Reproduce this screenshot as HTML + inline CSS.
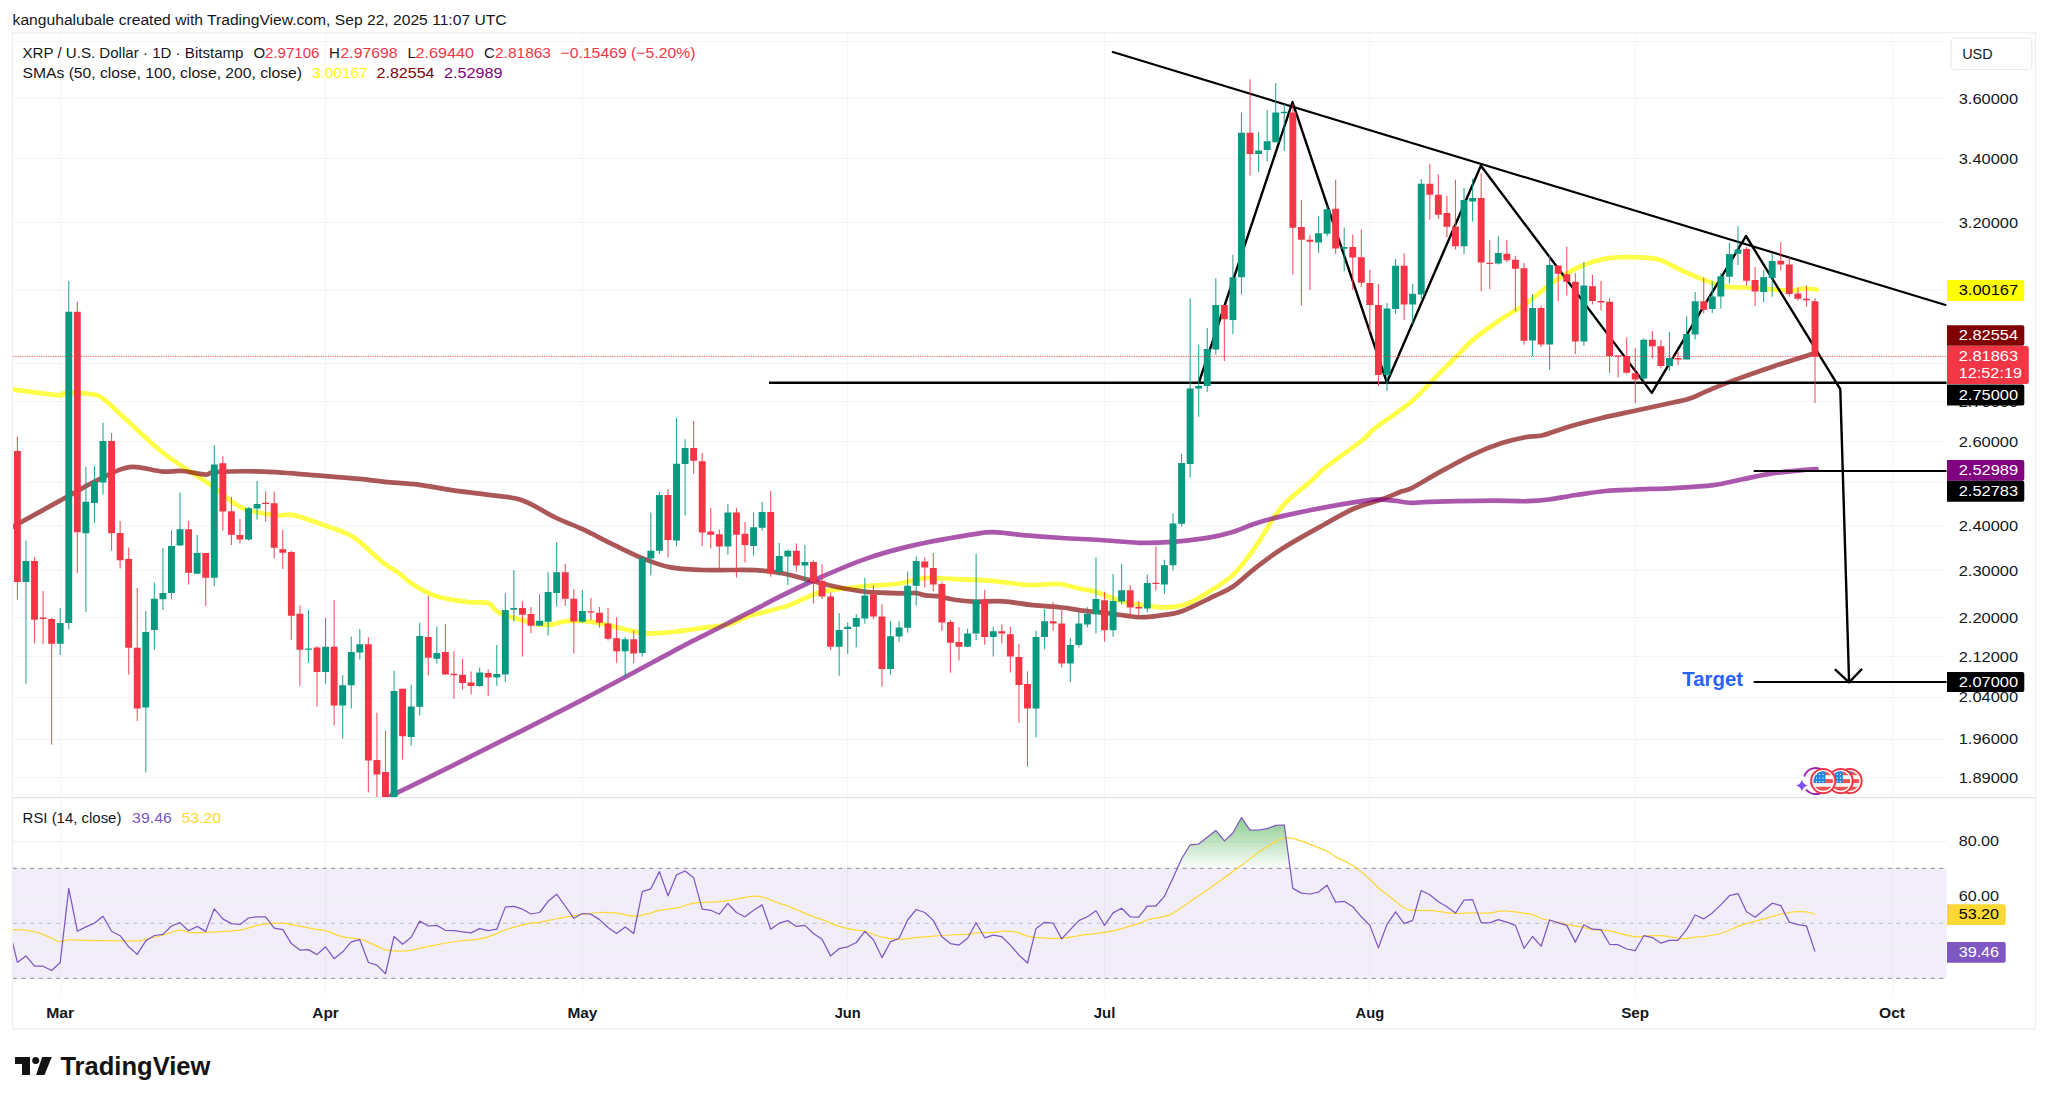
<!DOCTYPE html>
<html lang="en"><head><meta charset="utf-8"><title>XRP / U.S. Dollar chart</title>
<style>html,body{margin:0;padding:0;background:#fff}body{width:2048px;height:1103px;overflow:hidden}svg{display:block}</style></head>
<body>
<svg width="2048" height="1103" viewBox="0 0 2048 1103" font-family="&quot;Liberation Sans&quot;, Arial, sans-serif">
<defs>
<clipPath id="cp"><rect x="12.9" y="33.3" width="1933.6" height="764.0"/></clipPath>
<clipPath id="cr"><rect x="12.9" y="797.8" width="1933.6" height="197.4000000000001"/></clipPath>
<clipPath id="cob"><rect x="12.9" y="797.8" width="1933.6" height="70.60000000000002"/></clipPath>
<linearGradient id="gob" gradientUnits="userSpaceOnUse" x1="0" y1="812" x2="0" y2="868.4"><stop offset="0" stop-color="#4caf50" stop-opacity="0.72"/><stop offset="1" stop-color="#4caf50" stop-opacity="0.02"/></linearGradient>
</defs>
<rect width="2048" height="1103" fill="#fff"/>
<path d="M12.9 41.5H1946.5M12.9 98.5H1946.5M12.9 158.5H1946.5M12.9 222.5H1946.5M12.9 290.5H1946.5M12.9 363.5H1946.5M12.9 401.5H1946.5M12.9 441.5H1946.5M12.9 482.5H1946.5M12.9 525.5H1946.5M12.9 570.5H1946.5M12.9 617.5H1946.5M12.9 656.5H1946.5M12.9 697.5H1946.5M12.9 739.5H1946.5M12.9 777.5H1946.5M60.5 33.3V995.2M325.5 33.3V995.2M582.5 33.3V995.2M847.5 33.3V995.2M1104.5 33.3V995.2M1369.5 33.3V995.2M1635.5 33.3V995.2M1892.5 33.3V995.2" stroke="#f4f5f7" stroke-width="1" fill="none"/>
<rect x="12.9" y="868.4" width="1933.6" height="110.0" fill="#7e57c2" fill-opacity="0.1"/>
<path d="M12.9 841.5H1946.5M12.9 896.5H1946.5M12.9 951.5H1946.5" stroke="#ececf2" stroke-width="1" fill="none" opacity="0.75"/>
<path d="M12.9 868.4H1946.5"  stroke="#787b86" stroke-opacity="0.7" stroke-width="1.1" stroke-dasharray="4 4.6" fill="none"/>
<path d="M12.9 978.4H1946.5"  stroke="#787b86" stroke-opacity="0.7" stroke-width="1.1" stroke-dasharray="4 4.6" fill="none"/>
<path d="M12.9 923.4H1946.5"  stroke="#787b86" stroke-opacity="0.35" stroke-width="1.1" stroke-dasharray="4 4.6" fill="none"/>
<g clip-path="url(#cp)" fill="none" stroke-linejoin="round" stroke-linecap="round">
<path d="M4.0 388.5C5.5 388.6 3.6 388.3 12.7 389.4C21.8 390.5 50.1 394.7 58.7 395.3C67.3 395.9 59.0 393.2 64.6 393.0C70.1 392.8 85.5 393.3 92.0 394.3C98.5 395.3 98.2 395.1 103.8 399.2C109.3 403.3 115.2 409.7 125.3 418.8C135.4 427.9 150.2 442.9 164.5 454.0C178.8 465.1 198.7 476.5 211.4 485.4C224.1 494.3 230.4 502.4 240.8 507.3C251.2 512.2 265.3 513.8 274.1 515.1C282.9 516.4 285.6 513.5 293.7 515.1C301.8 516.7 313.2 521.3 323.0 524.9C332.8 528.5 342.3 530.2 352.4 536.6C362.5 543.0 375.8 556.9 383.7 563.1C391.6 569.3 395.2 570.3 400.0 573.8C404.8 577.3 406.2 580.3 412.2 584.0C418.1 587.7 426.6 593.0 435.7 596.0C444.8 599.0 458.2 600.8 467.0 602.0C475.8 603.2 483.4 601.6 488.6 603.3C493.8 605.0 492.2 609.4 498.4 612.4C504.6 615.4 518.0 619.1 525.8 621.2C533.6 623.3 538.5 625.1 545.4 625.1C552.2 625.1 560.4 621.9 566.9 621.2C573.4 620.6 578.3 620.7 584.5 621.2C590.7 621.7 597.5 622.8 604.0 624.1C610.5 625.4 616.5 627.5 623.7 629.0C630.9 630.5 639.1 632.8 647.2 633.3C655.4 633.8 663.5 632.9 672.6 632.0C681.7 631.1 692.4 629.3 702.0 628.0C711.6 626.7 722.2 626.1 730.0 624.1C737.8 622.1 739.3 619.1 749.0 616.0C758.7 612.9 776.7 609.5 788.1 605.6C799.5 601.8 809.4 595.6 817.5 592.9C825.6 590.2 828.9 590.6 837.0 589.5C845.1 588.4 856.6 586.9 866.4 586.0C876.2 585.1 887.6 585.0 895.8 584.0C904.0 583.0 910.2 581.1 915.4 580.1C920.6 579.1 920.6 578.0 927.1 577.8C933.6 577.6 943.4 578.5 954.5 579.1C965.6 579.7 981.3 580.1 993.7 581.1C1006.1 582.1 1018.1 584.5 1028.9 585.0C1039.7 585.5 1049.8 583.4 1058.3 584.0C1066.8 584.6 1073.8 587.5 1080.0 588.8C1086.2 590.1 1089.2 589.8 1095.7 591.7C1102.2 593.7 1110.4 598.1 1119.2 600.5C1128.0 602.9 1140.3 604.9 1148.5 606.0C1156.7 607.1 1161.6 607.8 1168.1 607.4C1174.6 607.0 1181.2 606.0 1187.7 603.5C1194.2 601.0 1199.8 597.4 1207.3 592.7C1214.8 588.0 1224.5 582.9 1232.7 575.1C1240.9 567.3 1248.1 557.0 1256.2 545.7C1264.3 534.4 1272.2 518.1 1281.5 507.2C1290.8 496.2 1304.9 486.7 1312.3 480.0C1319.7 473.3 1317.7 473.6 1326.0 467.0C1334.3 460.4 1353.8 447.0 1362.0 440.5C1370.2 434.0 1367.1 434.3 1375.2 428.0C1383.3 421.7 1400.6 410.7 1410.4 402.5C1420.2 394.3 1426.1 386.8 1433.9 379.0C1441.7 371.2 1450.9 362.0 1457.4 355.5C1463.9 349.0 1465.5 346.1 1473.0 339.9C1480.5 333.7 1494.2 323.9 1502.4 318.3C1510.6 312.8 1517.4 309.6 1522.0 306.6C1526.6 303.6 1524.4 304.6 1530.0 300.3C1535.6 296.0 1547.3 286.2 1555.5 280.7C1563.7 275.1 1571.2 270.6 1579.0 267.0C1586.8 263.4 1594.9 260.8 1602.4 259.2C1609.9 257.6 1615.8 257.4 1624.0 257.2C1632.2 257.0 1644.9 257.5 1651.4 258.2C1657.9 258.9 1657.9 259.0 1663.1 261.1C1668.3 263.2 1675.5 267.6 1682.7 270.9C1689.9 274.2 1699.0 278.1 1706.2 280.7C1713.4 283.3 1719.3 285.5 1725.8 286.6C1732.3 287.7 1737.2 287.0 1745.4 287.5C1753.6 288.0 1766.9 289.0 1774.7 289.5C1782.5 290.0 1787.5 290.7 1792.4 290.5C1797.3 290.3 1800.0 288.7 1804.1 288.5C1808.2 288.3 1814.7 289.3 1816.8 289.5" stroke="#ffff00" stroke-opacity="0.72" stroke-width="4.7"/>
<path d="M4.0 532.0C5.5 531.1 3.6 531.9 12.7 526.8C21.8 521.7 45.2 508.9 58.7 501.4C72.2 493.9 83.5 487.2 94.0 481.8C104.5 476.4 114.2 471.6 121.4 469.1C128.6 466.7 130.2 466.7 137.0 467.1C143.8 467.5 155.0 471.0 162.5 471.6C170.0 472.2 174.8 470.5 182.0 471.0C189.2 471.5 200.0 474.4 205.6 474.6C211.2 474.8 205.6 472.5 215.4 472.0C225.2 471.5 246.4 471.0 264.3 471.6C282.2 472.2 307.1 474.7 323.0 475.9C338.9 477.1 349.1 477.9 359.4 478.9C369.7 479.9 375.0 480.9 384.8 481.8C394.6 482.8 407.0 483.2 418.1 484.6C429.2 486.0 440.0 488.4 451.4 490.1C462.8 491.8 474.9 492.9 486.6 494.6C498.4 496.3 510.5 496.4 521.9 500.2C533.3 504.0 545.1 512.7 555.2 517.5C565.3 522.3 572.8 524.6 582.6 529.2C592.4 533.8 603.8 540.0 613.9 544.9C624.0 549.8 633.8 554.9 643.3 558.6C652.8 562.4 660.9 565.5 670.7 567.4C680.5 569.3 692.1 569.6 702.0 570.0C711.9 570.4 720.5 570.0 730.0 570.0C739.5 570.0 750.0 569.8 758.7 570.3C767.4 570.8 773.7 571.7 782.2 573.3C790.7 574.9 800.5 577.8 809.6 580.1C818.7 582.4 827.5 585.0 837.0 587.0C846.5 589.0 855.0 590.8 866.4 591.9C877.8 593.0 897.4 593.2 905.6 593.4C913.8 593.6 912.1 592.6 915.4 592.9C918.7 593.2 921.3 594.8 925.2 595.4C929.1 596.0 934.0 595.7 938.9 596.4C943.8 597.1 948.6 598.8 954.5 599.7C960.4 600.6 965.9 601.4 974.1 601.7C982.3 602.0 993.7 600.7 1003.5 601.3C1013.3 601.9 1023.0 604.2 1032.8 605.2C1042.6 606.2 1054.3 606.6 1062.2 607.5C1070.1 608.4 1072.1 609.3 1080.0 610.3C1087.9 611.3 1099.6 612.1 1109.4 613.3C1119.2 614.4 1129.9 616.9 1138.7 617.2C1147.5 617.5 1155.0 616.2 1162.2 615.2C1169.4 614.2 1173.3 614.4 1181.8 611.3C1190.3 608.2 1204.6 600.7 1213.1 596.6C1221.6 592.5 1225.5 591.7 1232.7 586.8C1239.9 581.9 1247.7 573.8 1256.2 567.3C1264.7 560.8 1272.2 554.9 1283.6 547.7C1295.0 540.5 1313.0 530.7 1324.7 524.2C1336.5 517.7 1344.3 512.8 1354.1 508.5C1363.9 504.2 1375.8 501.4 1383.5 498.7C1391.2 495.9 1395.3 493.8 1400.0 492.0C1404.7 490.2 1405.2 491.4 1411.7 488.1C1418.2 484.8 1429.1 477.9 1439.2 472.4C1449.3 466.8 1462.0 459.7 1472.4 454.8C1482.8 449.9 1493.0 446.0 1501.8 443.1C1510.6 440.2 1518.4 438.5 1525.3 437.2C1532.2 435.9 1536.1 436.8 1542.9 435.2C1549.8 433.6 1556.6 430.3 1566.4 427.4C1576.2 424.5 1590.3 420.8 1601.7 418.0C1613.1 415.2 1622.9 413.4 1635.0 410.8C1647.1 408.2 1665.0 404.3 1674.1 402.3C1683.2 400.3 1684.4 400.4 1689.8 398.6C1695.2 396.8 1698.6 394.5 1706.2 391.3C1713.8 388.1 1724.2 383.8 1735.6 379.6C1747.0 375.4 1762.0 370.1 1774.7 365.9C1787.4 361.6 1805.2 356.2 1811.9 354.1C1818.6 352.0 1814.5 353.6 1815.0 353.5" stroke="#800000" stroke-opacity="0.66" stroke-width="4.7"/>
<path d="M386.0 798.2C388.1 797.2 387.6 797.3 398.3 792.1C409.0 786.9 419.3 782.3 450.0 766.9C480.7 751.5 544.4 719.5 582.7 699.6C621.0 679.7 660.1 658.1 680.0 647.6C699.9 637.1 693.7 640.6 702.0 636.4C710.3 632.2 720.3 627.1 730.0 622.2C739.7 617.3 752.0 611.0 760.0 606.9C768.0 602.8 768.1 602.3 778.3 597.3C788.5 592.3 806.7 583.5 821.4 577.0C836.1 570.5 850.7 564.0 866.4 558.6C882.1 553.2 897.4 549.0 915.4 544.9C933.4 540.8 961.0 536.2 974.1 534.1C987.2 532.0 985.6 532.0 993.7 532.2C1001.9 532.4 1011.6 534.1 1023.0 535.1C1034.4 536.1 1049.4 537.2 1062.2 538.0C1075.0 538.8 1087.2 539.2 1100.0 540.0C1112.8 540.8 1127.4 542.4 1138.7 542.8C1150.0 543.2 1156.7 543.0 1168.1 542.2C1179.5 541.4 1196.5 539.6 1207.3 537.9C1218.1 536.2 1224.5 534.5 1232.7 532.0C1240.9 529.5 1247.4 526.0 1256.2 523.2C1265.0 520.4 1272.5 518.3 1285.6 515.4C1298.6 512.5 1319.8 508.2 1334.5 505.6C1349.2 503.0 1363.9 500.5 1373.7 499.7C1383.5 498.9 1387.0 500.2 1393.3 500.7C1399.6 501.2 1405.7 502.6 1411.7 502.8C1417.7 503.0 1418.3 502.1 1429.4 501.8C1440.5 501.5 1464.9 501.0 1478.3 500.8C1491.7 500.6 1501.4 500.7 1509.6 500.8C1517.8 500.9 1520.8 501.4 1527.3 501.2C1533.8 501.0 1540.6 500.5 1548.8 499.5C1557.0 498.5 1566.7 496.4 1576.2 495.0C1585.7 493.6 1595.8 491.9 1605.6 491.0C1615.4 490.1 1623.6 490.0 1635.0 489.5C1646.4 489.0 1661.0 488.8 1674.1 488.1C1687.1 487.4 1701.9 486.7 1713.3 485.2C1724.7 483.7 1732.8 481.3 1742.6 479.3C1752.4 477.3 1762.4 474.9 1772.0 473.4C1781.6 471.9 1792.6 471.1 1800.0 470.4C1807.4 469.7 1813.7 469.2 1816.4 469.0" stroke="#800080" stroke-opacity="0.66" stroke-width="4.7"/>
</g>
<g fill="none" stroke="#000" stroke-linejoin="miter" stroke-linecap="butt">
<path d="M1112.8 52.1L1945.5 304.9" stroke-width="2.1" stroke-linecap="round"/>
<path d="M769 382.7H1946.5" stroke-width="2.4"/>
<path d="M1198.9 382.5L1292.5 102.1L1386.9 382.5L1480.9 165.7L1651.8 392.9L1746 236L1840.3 389.2L1849.1 682.2" stroke-width="2.4" stroke-linejoin="round"/>
<path d="M1835.6 669.9L1849.1 682.4L1861.4 669.5" stroke-width="2.4" stroke-linecap="round" stroke-linejoin="round"/>
<path d="M1753.7 471.1H1946.5M1753.7 681.9H1946.5" stroke-width="2"/>
</g>
<text x="1682.3" y="686.2" font-size="20" font-weight="bold" fill="#2962ff" textLength="60.7" lengthAdjust="spacingAndGlyphs">Target</text>
<g clip-path="url(#cp)">
<path d="M25.41 540.5h1.1V683.7h-1.1zM59.65 608.0h1.1V655.0h-1.1zM68.21 280.8h1.1V629.5h-1.1zM85.33 467.1h1.1V611.9h-1.1zM93.89 466.1h1.1V522.9h-1.1zM102.45 422.7h1.1V494.5h-1.1zM145.25 610.9h1.1V772.4h-1.1zM153.81 582.5h1.1V649.7h-1.1zM162.37 548.0h1.1V609.9h-1.1zM170.93 530.4h1.1V599.2h-1.1zM179.49 492.4h1.1V545.4h-1.1zM196.61 535.1h1.1V573.7h-1.1zM213.73 445.0h1.1V586.0h-1.1zM247.97 506.9h1.1V540.5h-1.1zM256.53 481.0h1.1V519.4h-1.1zM307.89 609.9h1.1V662.8h-1.1zM325.01 618.0h1.1V683.7h-1.1zM342.13 675.2h1.1V738.7h-1.1zM350.69 636.6h1.1V708.6h-1.1zM359.25 629.0h1.1V659.6h-1.1zM393.49 670.7h1.1V797.0h-1.1zM410.61 684.8h1.1V745.7h-1.1zM419.17 622.8h1.1V715.6h-1.1zM436.29 626.5h1.1V663.7h-1.1zM479.09 667.6h1.1V686.8h-1.1zM496.21 645.1h1.1V685.8h-1.1zM504.77 593.2h1.1V681.9h-1.1zM513.33 570.3h1.1V621.6h-1.1zM539.01 594.2h1.1V625.7h-1.1zM547.57 572.3h1.1V635.5h-1.1zM556.13 542.0h1.1V606.6h-1.1zM581.81 589.9h1.1V622.8h-1.1zM624.61 636.9h1.1V677.6h-1.1zM641.73 556.2h1.1V656.4h-1.1zM650.29 512.6h1.1V575.6h-1.1zM658.85 492.0h1.1V553.7h-1.1zM675.97 418.0h1.1V546.5h-1.1zM684.53 439.2h1.1V515.5h-1.1zM727.33 504.2h1.1V554.7h-1.1zM753.01 512.6h1.1V555.7h-1.1zM761.57 501.8h1.1V530.8h-1.1zM778.69 542.9h1.1V575.6h-1.1zM787.25 549.8h1.1V585.0h-1.1zM804.37 544.9h1.1V584.4h-1.1zM838.61 613.0h1.1V675.7h-1.1zM847.17 622.5h1.1V653.8h-1.1zM855.73 614.0h1.1V647.3h-1.1zM864.29 577.8h1.1V623.8h-1.1zM889.97 620.9h1.1V674.7h-1.1zM898.53 620.9h1.1V641.9h-1.1zM907.09 571.6h1.1V632.7h-1.1zM915.65 556.6h1.1V605.6h-1.1zM967.01 628.7h1.1V646.7h-1.1zM975.57 553.7h1.1V640.1h-1.1zM992.69 626.8h1.1V656.5h-1.1zM1035.49 630.7h1.1V737.4h-1.1zM1044.05 609.2h1.1V649.3h-1.1zM1069.73 638.1h1.1V682.2h-1.1zM1078.29 612.6h1.1V647.7h-1.1zM1086.85 607.3h1.1V627.5h-1.1zM1095.41 557.5h1.1V633.2h-1.1zM1112.53 574.1h1.1V636.8h-1.1zM1121.09 563.9h1.1V604.5h-1.1zM1146.77 574.7h1.1V612.3h-1.1zM1163.89 559.8h1.1V593.7h-1.1zM1172.45 513.4h1.1V570.2h-1.1zM1181.01 453.7h1.1V526.7h-1.1zM1189.57 298.3h1.1V477.6h-1.1zM1198.13 344.7h1.1V416.8h-1.1zM1206.69 328.1h1.1V391.7h-1.1zM1215.25 278.2h1.1V354.5h-1.1zM1232.37 254.7h1.1V334.0h-1.1zM1240.93 112.5h1.1V294.4h-1.1zM1258.05 132.0h1.1V172.0h-1.1zM1266.61 109.9h1.1V161.8h-1.1zM1275.17 83.1h1.1V142.2h-1.1zM1283.73 104.0h1.1V151.0h-1.1zM1317.97 216.2h1.1V252.8h-1.1zM1326.53 205.9h1.1V236.2h-1.1zM1343.65 227.4h1.1V271.2h-1.1zM1386.45 303.0h1.1V390.8h-1.1zM1395.01 259.0h1.1V313.8h-1.1zM1412.13 284.1h1.1V324.2h-1.1zM1420.69 179.0h1.1V298.7h-1.1zM1463.49 187.7h1.1V254.0h-1.1zM1472.05 178.5h1.1V221.5h-1.1zM1497.73 236.2h1.1V264.5h-1.1zM1531.97 294.3h1.1V356.0h-1.1zM1549.09 255.0h1.1V369.7h-1.1zM1583.33 262.1h1.1V345.7h-1.1zM1643.25 338.5h1.1V381.5h-1.1zM1668.93 332.0h1.1V370.8h-1.1zM1686.05 316.3h1.1V359.4h-1.1zM1694.61 291.9h1.1V339.4h-1.1zM1711.73 281.3h1.1V313.0h-1.1zM1720.29 272.9h1.1V308.5h-1.1zM1728.85 242.9h1.1V283.6h-1.1zM1737.41 226.3h1.1V265.0h-1.1zM1763.09 269.9h1.1V302.2h-1.1zM1771.65 253.3h1.1V296.7h-1.1z" fill="#089981" fill-opacity="0.85"/>
<path d="M16.85 436.8h1.1V599.7h-1.1zM33.97 557.0h1.1V643.6h-1.1zM42.53 591.0h1.1V644.2h-1.1zM51.09 618.0h1.1V744.6h-1.1zM76.77 301.7h1.1V572.9h-1.1zM111.01 432.9h1.1V550.7h-1.1zM119.57 521.0h1.1V568.6h-1.1zM128.13 547.4h1.1V674.5h-1.1zM136.69 588.0h1.1V720.9h-1.1zM188.05 521.0h1.1V584.5h-1.1zM205.17 553.1h1.1V606.0h-1.1zM222.29 456.0h1.1V530.4h-1.1zM230.85 497.1h1.1V544.9h-1.1zM239.41 519.0h1.1V543.5h-1.1zM265.09 491.6h1.1V521.8h-1.1zM273.65 491.6h1.1V558.2h-1.1zM282.21 529.8h1.1V568.9h-1.1zM290.77 550.7h1.1V639.7h-1.1zM299.33 605.4h1.1V685.9h-1.1zM316.45 646.0h1.1V706.5h-1.1zM333.57 600.0h1.1V725.6h-1.1zM367.81 637.3h1.1V792.5h-1.1zM376.37 712.8h1.1V797.0h-1.1zM384.93 730.8h1.1V797.0h-1.1zM402.05 688.7h1.1V759.6h-1.1zM427.73 595.7h1.1V675.6h-1.1zM444.85 624.1h1.1V674.5h-1.1zM453.41 651.2h1.1V699.1h-1.1zM461.97 659.0h1.1V689.7h-1.1zM470.53 671.5h1.1V694.6h-1.1zM487.65 669.2h1.1V696.0h-1.1zM521.89 601.2h1.1V656.4h-1.1zM530.45 607.1h1.1V633.3h-1.1zM564.69 564.1h1.1V606.0h-1.1zM573.25 588.9h1.1V653.5h-1.1zM590.37 598.1h1.1V620.2h-1.1zM598.93 607.1h1.1V627.5h-1.1zM607.49 608.1h1.1V640.4h-1.1zM616.05 617.3h1.1V662.7h-1.1zM633.17 630.4h1.1V663.3h-1.1zM667.41 489.1h1.1V557.2h-1.1zM693.09 421.0h1.1V473.8h-1.1zM701.65 452.9h1.1V545.9h-1.1zM710.21 508.1h1.1V548.4h-1.1zM718.77 529.6h1.1V568.8h-1.1zM735.89 507.7h1.1V577.8h-1.1zM744.45 522.0h1.1V562.5h-1.1zM770.13 491.0h1.1V576.8h-1.1zM795.81 543.5h1.1V571.3h-1.1zM812.93 560.2h1.1V603.6h-1.1zM821.49 564.5h1.1V599.0h-1.1zM830.05 592.7h1.1V650.3h-1.1zM872.85 585.2h1.1V618.9h-1.1zM881.41 604.2h1.1V686.5h-1.1zM924.21 557.6h1.1V587.6h-1.1zM932.77 553.1h1.1V591.5h-1.1zM941.33 581.9h1.1V630.7h-1.1zM949.89 619.9h1.1V672.8h-1.1zM958.45 627.2h1.1V660.5h-1.1zM984.13 590.0h1.1V644.8h-1.1zM1001.25 624.4h1.1V643.4h-1.1zM1009.81 626.8h1.1V672.4h-1.1zM1018.37 643.8h1.1V722.7h-1.1zM1026.93 671.2h1.1V766.4h-1.1zM1052.61 602.3h1.1V630.7h-1.1zM1061.17 610.1h1.1V667.5h-1.1zM1103.97 591.7h1.1V641.7h-1.1zM1129.65 584.9h1.1V617.2h-1.1zM1138.21 600.9h1.1V614.8h-1.1zM1155.33 546.3h1.1V590.8h-1.1zM1223.81 305.0h1.1V361.0h-1.1zM1249.49 79.2h1.1V175.5h-1.1zM1292.29 104.0h1.1V274.4h-1.1zM1300.85 200.0h1.1V305.6h-1.1zM1309.41 235.2h1.1V289.9h-1.1zM1335.09 179.8h1.1V254.0h-1.1zM1352.21 234.8h1.1V289.9h-1.1zM1360.77 229.4h1.1V287.0h-1.1zM1369.33 269.8h1.1V332.0h-1.1zM1377.89 284.1h1.1V385.9h-1.1zM1403.57 253.3h1.1V319.9h-1.1zM1429.25 163.8h1.1V219.6h-1.1zM1437.81 174.5h1.1V219.0h-1.1zM1446.37 196.1h1.1V237.2h-1.1zM1454.93 179.8h1.1V249.4h-1.1zM1480.61 173.2h1.1V290.9h-1.1zM1489.17 240.1h1.1V288.9h-1.1zM1506.29 239.7h1.1V262.5h-1.1zM1514.85 255.7h1.1V310.9h-1.1zM1523.41 263.0h1.1V344.7h-1.1zM1540.53 305.6h1.1V347.1h-1.1zM1557.65 265.4h1.1V301.3h-1.1zM1566.21 246.4h1.1V295.4h-1.1zM1574.77 272.9h1.1V354.1h-1.1zM1591.89 274.8h1.1V304.6h-1.1zM1600.45 281.1h1.1V310.5h-1.1zM1609.01 298.3h1.1V372.7h-1.1zM1617.57 355.7h1.1V377.6h-1.1zM1626.13 337.5h1.1V373.7h-1.1zM1634.69 348.2h1.1V403.1h-1.1zM1651.81 331.0h1.1V358.6h-1.1zM1660.37 339.8h1.1V368.2h-1.1zM1677.49 351.8h1.1V364.9h-1.1zM1703.17 277.4h1.1V313.6h-1.1zM1745.97 247.0h1.1V285.6h-1.1zM1754.53 267.0h1.1V306.1h-1.1zM1780.21 242.1h1.1V270.5h-1.1zM1788.77 257.2h1.1V296.7h-1.1zM1797.33 287.5h1.1V300.7h-1.1zM1805.89 285.6h1.1V306.7h-1.1zM1814.45 298.3h1.1V403.1h-1.1z" fill="#F23645" fill-opacity="0.85"/>
<path d="M22.51 561.1h6.9V581.9h-6.9zM56.75 623.0h6.9V643.8h-6.9zM65.31 311.7h6.9V623.0h-6.9zM82.43 501.8h6.9V533.3h-6.9zM90.99 481.8h6.9V503.0h-6.9zM99.55 441.1h6.9V482.6h-6.9zM142.35 632.0h6.9V707.6h-6.9zM150.91 598.8h6.9V629.9h-6.9zM159.47 592.9h6.9V599.2h-6.9zM168.03 546.0h6.9V592.9h-6.9zM176.59 529.2h6.9V545.4h-6.9zM193.71 553.1h6.9V573.7h-6.9zM210.83 464.6h6.9V577.7h-6.9zM245.07 508.2h6.9V539.6h-6.9zM253.63 503.9h6.9V508.6h-6.9zM304.99 648.5h6.9V649.7h-6.9zM322.11 646.7h6.9V672.0h-6.9zM339.23 685.3h6.9V705.5h-6.9zM347.79 652.0h6.9V685.3h-6.9zM356.35 644.2h6.9V652.6h-6.9zM390.59 690.9h6.9V797.0h-6.9zM407.71 706.4h6.9V737.1h-6.9zM416.27 636.1h6.9V706.8h-6.9zM433.39 652.9h6.9V658.8h-6.9zM476.19 672.5h6.9V686.0h-6.9zM493.31 674.1h6.9V677.6h-6.9zM501.87 610.0h6.9V674.5h-6.9zM510.43 607.9h6.9V609.8h-6.9zM536.11 620.8h6.9V625.7h-6.9zM544.67 591.9h6.9V621.8h-6.9zM553.23 572.3h6.9V592.9h-6.9zM578.91 611.0h6.9V621.8h-6.9zM621.71 639.2h6.9V651.2h-6.9zM638.83 558.2h6.9V652.9h-6.9zM647.39 550.8h6.9V558.6h-6.9zM655.95 495.0h6.9V550.8h-6.9zM673.07 463.8h6.9V540.6h-6.9zM681.63 448.0h6.9V464.0h-6.9zM724.43 512.6h6.9V546.5h-6.9zM750.11 527.3h6.9V545.9h-6.9zM758.67 512.0h6.9V527.7h-6.9zM775.79 556.0h6.9V571.9h-6.9zM784.35 550.8h6.9V556.6h-6.9zM801.47 562.1h6.9V565.4h-6.9zM835.71 629.9h6.9V646.7h-6.9zM844.27 626.8h6.9V629.1h-6.9zM852.83 618.0h6.9V626.8h-6.9zM861.39 595.6h6.9V618.6h-6.9zM887.07 636.2h6.9V668.9h-6.9zM895.63 627.4h6.9V636.6h-6.9zM904.19 585.7h6.9V627.8h-6.9zM912.75 560.9h6.9V585.7h-6.9zM964.11 633.6h6.9V646.7h-6.9zM972.67 599.8h6.9V633.6h-6.9zM989.79 631.3h6.9V637.0h-6.9zM1032.59 637.0h6.9V708.6h-6.9zM1041.15 621.3h6.9V637.0h-6.9zM1066.83 645.0h6.9V663.6h-6.9zM1075.39 623.5h6.9V645.0h-6.9zM1083.95 613.7h6.9V624.4h-6.9zM1092.51 598.9h6.9V614.3h-6.9zM1109.63 600.9h6.9V630.3h-6.9zM1118.19 590.2h6.9V601.5h-6.9zM1143.87 582.9h6.9V608.4h-6.9zM1160.99 565.3h6.9V584.5h-6.9zM1169.55 523.6h6.9V565.3h-6.9zM1178.11 463.1h6.9V523.8h-6.9zM1186.67 388.4h6.9V464.1h-6.9zM1195.23 385.9h6.9V388.4h-6.9zM1203.79 349.1h6.9V385.9h-6.9zM1212.35 305.0h6.9V349.6h-6.9zM1229.47 277.2h6.9V319.9h-6.9zM1238.03 132.8h6.9V277.2h-6.9zM1255.15 150.5h6.9V154.0h-6.9zM1263.71 141.3h6.9V150.1h-6.9zM1272.27 112.5h6.9V142.2h-6.9zM1280.83 111.8h6.9V113.2h-6.9zM1315.07 233.3h6.9V242.5h-6.9zM1323.63 209.2h6.9V233.7h-6.9zM1340.75 246.9h6.9V248.7h-6.9zM1383.55 308.5h6.9V375.1h-6.9zM1392.11 265.8h6.9V308.9h-6.9zM1409.23 293.8h6.9V304.6h-6.9zM1417.79 183.7h6.9V294.4h-6.9zM1460.59 200.0h6.9V246.2h-6.9zM1469.15 198.0h6.9V201.4h-6.9zM1494.83 253.0h6.9V263.5h-6.9zM1529.07 308.0h6.9V340.6h-6.9zM1546.19 265.0h6.9V344.5h-6.9zM1580.43 285.6h6.9V341.4h-6.9zM1640.35 339.8h6.9V378.6h-6.9zM1666.03 358.0h6.9V365.9h-6.9zM1683.15 334.1h6.9V359.4h-6.9zM1691.71 301.3h6.9V334.5h-6.9zM1708.83 296.4h6.9V309.1h-6.9zM1717.39 276.2h6.9V296.4h-6.9zM1725.95 253.9h6.9V276.8h-6.9zM1734.51 249.4h6.9V253.7h-6.9zM1760.19 277.2h6.9V291.9h-6.9zM1768.75 261.1h6.9V278.1h-6.9z" fill="#089981"/>
<path d="M13.95 450.9h6.9V581.9h-6.9zM31.07 561.1h6.9V619.7h-6.9zM39.63 617.4h6.9V619.1h-6.9zM48.19 619.1h6.9V643.8h-6.9zM73.87 311.7h6.9V532.3h-6.9zM108.11 441.1h6.9V533.3h-6.9zM116.67 533.1h6.9V560.2h-6.9zM125.23 559.1h6.9V647.7h-6.9zM133.79 647.7h6.9V708.4h-6.9zM185.15 529.2h6.9V572.8h-6.9zM202.27 553.1h6.9V577.7h-6.9zM219.39 463.2h6.9V511.6h-6.9zM227.95 511.2h6.9V534.7h-6.9zM236.51 535.1h6.9V539.6h-6.9zM262.19 502.7h6.9V504.1h-6.9zM270.75 503.3h6.9V547.8h-6.9zM279.31 549.2h6.9V552.7h-6.9zM287.87 552.0h6.9V615.8h-6.9zM296.43 613.8h6.9V649.7h-6.9zM313.55 647.5h6.9V672.0h-6.9zM330.67 646.8h6.9V705.5h-6.9zM364.91 644.2h6.9V760.6h-6.9zM373.47 760.0h6.9V774.5h-6.9zM382.03 772.0h6.9V797.0h-6.9zM399.15 688.7h6.9V736.3h-6.9zM424.83 636.9h6.9V657.8h-6.9zM441.95 652.1h6.9V674.5h-6.9zM450.51 673.8h6.9V675.2h-6.9zM459.07 674.8h6.9V682.9h-6.9zM467.63 682.5h6.9V686.0h-6.9zM484.75 673.1h6.9V677.6h-6.9zM518.99 608.1h6.9V614.7h-6.9zM527.55 614.0h6.9V625.7h-6.9zM561.79 572.3h6.9V598.7h-6.9zM570.35 598.7h6.9V621.6h-6.9zM587.47 611.2h6.9V612.6h-6.9zM596.03 612.8h6.9V622.8h-6.9zM604.59 623.6h6.9V638.8h-6.9zM613.15 638.2h6.9V651.2h-6.9zM630.27 639.2h6.9V653.5h-6.9zM664.51 495.0h6.9V540.0h-6.9zM690.19 448.0h6.9V460.7h-6.9zM698.75 461.3h6.9V532.5h-6.9zM707.31 531.6h6.9V534.7h-6.9zM715.87 534.3h6.9V546.5h-6.9zM732.99 512.6h6.9V534.7h-6.9zM741.55 533.7h6.9V544.9h-6.9zM767.23 512.0h6.9V573.3h-6.9zM792.91 550.8h6.9V565.4h-6.9zM810.03 562.1h6.9V582.1h-6.9zM818.59 581.1h6.9V596.4h-6.9zM827.15 596.4h6.9V646.7h-6.9zM869.95 594.6h6.9V616.4h-6.9zM878.51 616.6h6.9V668.9h-6.9zM921.31 561.5h6.9V567.4h-6.9zM929.87 568.0h6.9V584.5h-6.9zM938.43 584.0h6.9V622.5h-6.9zM946.99 621.9h6.9V642.8h-6.9zM955.55 642.0h6.9V646.7h-6.9zM981.23 599.8h6.9V637.0h-6.9zM998.35 631.3h6.9V633.6h-6.9zM1006.91 634.2h6.9V656.5h-6.9zM1015.47 657.1h6.9V685.1h-6.9zM1024.03 684.1h6.9V708.6h-6.9zM1049.71 621.3h6.9V623.5h-6.9zM1058.27 623.5h6.9V663.6h-6.9zM1101.07 600.2h6.9V630.3h-6.9zM1126.75 590.2h6.9V607.4h-6.9zM1135.31 607.0h6.9V608.4h-6.9zM1152.43 582.7h6.9V584.1h-6.9zM1220.91 305.0h6.9V319.3h-6.9zM1246.59 132.8h6.9V154.0h-6.9zM1289.39 112.5h6.9V227.8h-6.9zM1297.95 227.0h6.9V239.7h-6.9zM1306.51 239.7h6.9V241.7h-6.9zM1332.19 208.8h6.9V248.6h-6.9zM1349.31 246.9h6.9V257.6h-6.9zM1357.87 257.3h6.9V282.7h-6.9zM1366.43 283.1h6.9V305.0h-6.9zM1374.99 305.0h6.9V375.1h-6.9zM1400.67 265.8h6.9V304.6h-6.9zM1426.35 183.7h6.9V194.7h-6.9zM1434.91 194.7h6.9V214.7h-6.9zM1443.47 213.1h6.9V226.8h-6.9zM1452.03 226.4h6.9V246.2h-6.9zM1477.71 198.0h6.9V262.5h-6.9zM1486.27 262.7h6.9V264.1h-6.9zM1503.39 253.7h6.9V260.2h-6.9zM1511.95 259.8h6.9V268.7h-6.9zM1520.51 268.2h6.9V340.8h-6.9zM1537.63 308.0h6.9V344.5h-6.9zM1554.75 265.4h6.9V273.8h-6.9zM1563.31 274.2h6.9V281.7h-6.9zM1571.87 281.7h6.9V341.4h-6.9zM1588.99 286.2h6.9V300.9h-6.9zM1597.55 301.1h6.9V302.4h-6.9zM1606.11 301.8h6.9V356.1h-6.9zM1614.67 355.4h6.9V356.8h-6.9zM1623.23 356.1h6.9V372.7h-6.9zM1631.79 373.3h6.9V379.6h-6.9zM1648.91 339.8h6.9V346.3h-6.9zM1657.47 346.3h6.9V365.9h-6.9zM1674.59 358.0h6.9V359.4h-6.9zM1700.27 301.3h6.9V309.7h-6.9zM1743.07 249.0h6.9V280.7h-6.9zM1751.63 280.1h6.9V291.5h-6.9zM1777.31 260.7h6.9V264.6h-6.9zM1785.87 264.6h6.9V294.0h-6.9zM1794.43 293.4h6.9V298.7h-6.9zM1802.99 298.7h6.9V300.3h-6.9zM1811.55 301.3h6.9V356.7h-6.9z" fill="#F23645"/>
</g>
<path d="M12.9 356.4H1946.5" stroke="#F23645" stroke-width="1" stroke-opacity="0.85" stroke-dasharray="1.2 1.15" fill="none"/>
<path d="M1804.2 776.5A12 12 0 0 1 1823 770.6" fill="none" stroke="#9c27b0" stroke-width="2"/>
<path d="M1806.2 789.5A12 12 0 0 0 1823 791.6" fill="none" stroke="#9c27b0" stroke-width="2"/>
<circle cx="1849.6" cy="781.1" r="12.1" fill="#fff" stroke="#F23645" stroke-width="2"/><clipPath id="fc18496"><circle cx="1849.6" cy="781.1" r="9.8"/></clipPath><g clip-path="url(#fc18496)"><rect x="1839.6" y="771.1" width="20" height="20" fill="#f7f8fc"/><rect x="1839.6" y="771.2" width="20" height="4" fill="#ef5350"/><rect x="1839.6" y="779.1" width="20" height="4" fill="#ef5350"/><rect x="1839.6" y="786.8" width="20" height="4" fill="#ef5350"/><rect x="1839.6" y="771.1" width="12.2" height="11.8" fill="#1e88e5"/><rect x="1842.3" y="773.9" width="1.1" height="1.1" fill="#fff"/><rect x="1842.3" y="777.5" width="1.1" height="1.1" fill="#fff"/><rect x="1842.3" y="781.1" width="1.1" height="1.1" fill="#fff"/><rect x="1845.6" y="773.9" width="1.1" height="1.1" fill="#fff"/><rect x="1845.6" y="777.5" width="1.1" height="1.1" fill="#fff"/><rect x="1845.6" y="781.1" width="1.1" height="1.1" fill="#fff"/><rect x="1848.9" y="773.9" width="1.1" height="1.1" fill="#fff"/><rect x="1848.9" y="777.5" width="1.1" height="1.1" fill="#fff"/><rect x="1848.9" y="781.1" width="1.1" height="1.1" fill="#fff"/></g>
<circle cx="1840.6" cy="781.1" r="12.1" fill="#fff" stroke="#F23645" stroke-width="2"/><clipPath id="fc18406"><circle cx="1840.6" cy="781.1" r="9.8"/></clipPath><g clip-path="url(#fc18406)"><rect x="1830.6" y="771.1" width="20" height="20" fill="#f7f8fc"/><rect x="1830.6" y="771.2" width="20" height="4" fill="#ef5350"/><rect x="1830.6" y="779.1" width="20" height="4" fill="#ef5350"/><rect x="1830.6" y="786.8" width="20" height="4" fill="#ef5350"/><rect x="1830.6" y="771.1" width="12.2" height="11.8" fill="#1e88e5"/><rect x="1833.3" y="773.9" width="1.1" height="1.1" fill="#fff"/><rect x="1833.3" y="777.5" width="1.1" height="1.1" fill="#fff"/><rect x="1833.3" y="781.1" width="1.1" height="1.1" fill="#fff"/><rect x="1836.6" y="773.9" width="1.1" height="1.1" fill="#fff"/><rect x="1836.6" y="777.5" width="1.1" height="1.1" fill="#fff"/><rect x="1836.6" y="781.1" width="1.1" height="1.1" fill="#fff"/><rect x="1839.9" y="773.9" width="1.1" height="1.1" fill="#fff"/><rect x="1839.9" y="777.5" width="1.1" height="1.1" fill="#fff"/><rect x="1839.9" y="781.1" width="1.1" height="1.1" fill="#fff"/></g>
<circle cx="1823.2" cy="781.1" r="12.1" fill="#fff" stroke="#F23645" stroke-width="2"/><clipPath id="fc18232"><circle cx="1823.2" cy="781.1" r="9.8"/></clipPath><g clip-path="url(#fc18232)"><rect x="1813.2" y="771.1" width="20" height="20" fill="#f7f8fc"/><rect x="1813.2" y="771.2" width="20" height="4" fill="#ef5350"/><rect x="1813.2" y="779.1" width="20" height="4" fill="#ef5350"/><rect x="1813.2" y="786.8" width="20" height="4" fill="#ef5350"/><rect x="1813.2" y="771.1" width="12.2" height="11.8" fill="#1e88e5"/><rect x="1815.9" y="773.9" width="1.1" height="1.1" fill="#fff"/><rect x="1815.9" y="777.5" width="1.1" height="1.1" fill="#fff"/><rect x="1815.9" y="781.1" width="1.1" height="1.1" fill="#fff"/><rect x="1819.2" y="773.9" width="1.1" height="1.1" fill="#fff"/><rect x="1819.2" y="777.5" width="1.1" height="1.1" fill="#fff"/><rect x="1819.2" y="781.1" width="1.1" height="1.1" fill="#fff"/><rect x="1822.5" y="773.9" width="1.1" height="1.1" fill="#fff"/><rect x="1822.5" y="777.5" width="1.1" height="1.1" fill="#fff"/><rect x="1822.5" y="781.1" width="1.1" height="1.1" fill="#fff"/></g>
<path d="M1801.9 779.5Q1802.9 784.5 1807.9 785.5Q1802.9 786.5 1801.9 791.5Q1800.9 786.5 1795.9 785.5Q1800.9 784.5 1801.9 779.5z" fill="#7c4dff"/>
<path d="M12.9 797.6H2035.5" stroke="#e0e3eb" stroke-width="1.3"/>
<g clip-path="url(#cr)" fill="none" stroke-linejoin="round">
<path d="M1155.9 906.0 L1164.4 896.3 L1173.0 878.1 L1181.6 858.8 L1190.1 844.8 L1198.7 844.1 L1207.2 837.3 L1215.8 830.4 L1224.4 840.9 L1232.9 833.0 L1241.5 817.5 L1250.0 830.2 L1258.6 830.0 L1267.2 828.7 L1275.7 825.4 L1284.3 825.0 L1292.8 888.4 L1292.8 868.4 L1155.9 868.4z" fill="url(#gob)" clip-path="url(#cob)" stroke="none"/>
<path d="M8.6 929.6C9.3 929.6 10.0 929.6 12.9 929.6C15.8 929.7 21.5 929.5 25.8 930.1C30.1 930.6 34.7 931.7 38.7 932.9C42.6 934.1 46.0 935.7 49.4 937.2C52.8 938.6 55.9 941.0 59.1 941.5C62.2 941.9 63.8 940.1 68.3 940.0C72.8 939.8 77.3 940.2 85.9 940.4C94.6 940.5 111.7 940.7 120.3 940.8C128.9 940.9 133.2 941.3 137.5 941.0C141.8 940.8 141.8 940.3 146.1 939.3C150.4 938.3 157.6 936.6 163.3 935.0C168.9 933.5 175.8 930.5 180.0 930.1C184.3 929.6 184.3 932.0 188.6 932.4C192.9 932.8 200.0 932.6 205.8 932.4C211.6 932.3 217.7 931.8 223.4 931.4C229.2 931.0 234.5 931.1 240.2 930.1C245.9 929.1 252.7 926.4 257.4 925.4C262.1 924.3 264.3 924.0 268.6 923.6C272.9 923.3 277.8 922.7 283.2 923.2C288.5 923.7 295.0 925.4 300.8 926.4C306.6 927.5 313.9 928.9 318.0 929.6C322.1 930.4 321.2 929.5 325.5 930.7C329.8 932.0 337.8 935.7 343.8 937.2C349.7 938.6 355.6 937.9 360.9 939.3C366.3 940.8 371.7 944.0 376.0 945.8C380.3 947.6 382.1 949.2 386.7 950.1C391.4 951.0 398.5 951.4 403.9 951.1C409.3 950.9 413.4 949.6 418.9 948.6C424.5 947.5 430.6 945.9 437.2 944.7C443.8 943.4 451.5 942.0 458.7 941.0C465.8 940.1 474.1 940.0 480.2 938.9C486.2 937.8 490.9 935.9 495.2 934.4C499.5 932.8 500.9 931.3 505.9 929.6C511.0 928.0 519.5 925.5 525.3 924.3C531.0 923.0 534.9 923.1 540.3 922.1C545.7 921.2 551.8 919.6 557.5 918.5C563.2 917.4 570.4 916.4 574.7 915.7C579.0 915.0 579.0 914.7 583.3 914.2C587.6 913.6 594.7 912.6 600.5 912.5C606.2 912.3 612.1 912.5 617.7 913.1C623.2 913.7 628.3 916.1 633.8 916.1C639.3 916.1 646.5 914.1 650.7 913.1C655.0 912.1 655.0 911.1 659.3 910.3C663.6 909.5 670.8 909.3 676.5 908.2C682.2 907.0 686.5 904.3 693.5 903.2C700.5 902.1 711.5 902.4 718.6 901.7C725.8 901.0 730.7 900.1 736.5 899.1C742.3 898.2 748.9 896.4 753.4 896.1C758.0 895.8 759.5 896.2 763.8 897.4C768.1 898.6 775.2 902.0 779.2 903.4C783.2 904.9 782.1 903.8 787.8 906.0C793.5 908.2 807.7 914.5 813.4 916.8C819.1 919.0 817.7 917.9 822.0 919.6C826.3 921.2 833.5 924.7 839.2 926.4C844.9 928.2 851.9 929.3 856.1 930.1C860.4 930.9 860.4 930.0 864.7 931.2C869.0 932.3 876.2 935.8 881.9 937.2C887.6 938.5 893.4 939.2 899.1 939.3C904.8 939.4 910.4 938.1 916.1 937.6C921.7 937.1 927.5 936.5 933.2 936.1C939.0 935.7 944.7 935.3 950.4 935.0C956.1 934.7 963.1 934.5 967.4 934.2C971.7 933.8 971.7 933.2 976.0 932.9C980.3 932.6 988.9 932.7 993.2 932.4C997.5 932.2 998.9 931.3 1001.8 931.2C1004.6 931.0 1007.5 931.1 1010.4 931.4C1013.2 931.7 1015.9 932.1 1018.8 932.9C1021.6 933.7 1023.0 935.2 1027.3 936.1C1031.6 937.0 1038.8 937.9 1044.5 938.2C1050.3 938.6 1057.4 938.4 1061.7 938.2C1066.0 938.1 1066.1 937.8 1070.3 937.2C1074.6 936.5 1081.6 935.2 1087.3 934.4C1093.0 933.6 1098.7 933.4 1104.5 932.4C1110.2 931.5 1116.0 930.0 1121.7 928.6C1127.4 927.1 1134.4 925.1 1138.6 923.6C1142.9 922.2 1142.9 921.2 1147.2 920.0C1151.5 918.8 1160.1 917.5 1164.4 916.3C1168.7 915.2 1168.7 915.5 1173.0 913.1C1177.3 910.7 1184.3 905.6 1190.0 901.7C1195.7 897.9 1201.4 893.9 1207.2 889.9C1212.9 885.9 1218.7 881.7 1224.4 877.7C1230.1 873.6 1235.6 869.9 1241.3 865.6C1247.0 861.4 1252.8 856.3 1258.5 852.3C1264.2 848.3 1271.4 844.0 1275.7 841.6C1280.0 839.2 1281.4 838.4 1284.3 837.9C1287.1 837.4 1289.8 837.8 1292.7 838.3C1295.5 838.8 1295.5 838.8 1301.3 840.9C1307.0 843.1 1321.3 848.6 1327.0 851.2C1332.8 853.8 1331.4 854.2 1335.6 856.6C1339.9 859.0 1346.9 861.9 1352.6 865.6C1358.3 869.4 1365.5 875.5 1369.8 879.2C1374.1 882.8 1374.1 884.1 1378.4 887.8C1382.7 891.4 1391.3 898.0 1395.6 901.3C1399.8 904.6 1401.1 906.2 1403.9 907.7C1406.8 909.2 1408.2 909.9 1412.5 910.3C1416.8 910.7 1425.4 910.1 1429.7 910.3C1434.0 910.5 1434.1 910.9 1438.3 911.4C1442.6 911.9 1449.6 913.3 1455.3 913.5C1461.0 913.8 1466.8 913.0 1472.5 912.9C1478.2 912.8 1485.4 913.4 1489.7 913.1C1494.0 912.9 1495.4 911.7 1498.3 911.4C1501.1 911.0 1503.8 910.9 1506.6 911.0C1509.5 911.0 1510.9 911.2 1515.2 911.8C1519.5 912.4 1528.1 913.5 1532.4 914.6C1536.7 915.7 1538.2 917.5 1541.0 918.5C1543.9 919.4 1545.4 919.4 1549.6 920.4C1553.9 921.4 1560.9 923.1 1566.6 924.3C1572.3 925.5 1579.5 926.6 1583.8 927.5C1588.1 928.4 1589.5 929.2 1592.4 929.6C1595.2 930.1 1598.4 929.9 1601.0 930.1C1603.6 930.3 1602.3 929.6 1608.0 930.7C1613.7 931.8 1629.1 935.8 1635.1 936.7C1641.0 937.6 1639.4 936.3 1643.7 936.1C1648.0 935.9 1655.1 935.3 1660.9 935.7C1666.6 936.0 1673.8 937.7 1678.0 938.2C1682.3 938.7 1683.6 938.9 1686.4 938.7C1689.2 938.5 1692.1 937.5 1695.0 937.2C1697.9 936.8 1699.3 937.1 1703.6 936.5C1707.9 935.9 1715.1 935.2 1720.8 933.5C1726.5 931.8 1733.5 928.1 1737.8 926.4C1742.0 924.8 1742.1 924.9 1746.4 923.6C1750.7 922.4 1757.8 920.5 1763.5 918.9C1769.3 917.3 1776.4 915.3 1780.7 914.2C1785.0 913.1 1786.5 912.9 1789.3 912.5C1792.2 912.0 1794.9 911.7 1797.7 911.6C1800.5 911.5 1803.4 911.4 1806.3 911.8C1809.2 912.2 1813.5 913.8 1814.9 914.2" stroke="#fdd835" stroke-width="1.25"/>
<polyline points="8.8,927.5 17.4,962.3 26.0,955.9 34.5,966.2 43.1,966.2 51.6,970.5 60.2,962.5 68.8,888.4 77.3,931.2 85.9,926.9 94.4,923.2 103.0,916.3 111.6,931.2 120.1,935.7 128.7,946.8 137.2,954.4 145.8,940.8 154.4,935.5 162.9,934.4 171.5,926.0 180.0,922.6 188.6,930.7 197.2,926.4 205.7,931.4 214.3,908.8 222.8,918.9 231.4,923.6 240.0,924.5 248.5,918.0 257.1,916.8 265.6,916.8 274.2,928.1 282.8,929.6 291.3,943.6 299.9,950.1 308.4,949.6 317.0,954.6 325.6,946.8 334.1,958.7 342.7,951.8 351.2,941.9 359.8,939.7 368.4,962.5 376.9,965.1 385.5,973.7 394.0,936.5 402.6,944.3 411.2,937.2 419.7,921.1 428.3,926.0 436.8,925.4 445.4,930.3 454.0,930.7 462.5,931.8 471.1,932.9 479.6,928.6 488.2,930.7 496.8,929.2 505.3,907.1 513.9,906.4 522.4,909.2 531.0,914.0 539.6,912.5 548.1,901.3 556.7,894.2 565.2,906.0 573.8,918.3 582.4,913.5 590.9,914.2 599.5,919.6 608.0,927.5 616.6,933.5 625.2,927.1 633.7,933.5 642.3,891.6 650.8,888.8 659.4,871.6 668.0,895.7 676.5,874.9 685.1,871.0 693.6,877.7 702.2,909.2 710.8,910.3 719.3,914.2 727.9,903.4 736.4,912.5 745.0,916.8 753.6,910.3 762.1,904.9 770.7,929.2 779.2,923.2 787.8,920.6 796.4,926.4 804.9,925.4 813.5,933.5 822.0,939.3 830.6,955.9 839.2,948.6 847.7,946.8 856.3,942.5 864.8,931.4 873.4,939.7 882.0,957.6 890.5,941.9 899.1,938.2 907.6,920.0 916.2,909.5 924.8,912.5 933.3,920.4 941.9,936.7 950.4,943.6 959.0,945.1 967.6,938.2 976.1,922.8 984.7,937.8 993.2,935.2 1001.8,936.7 1010.4,945.1 1018.9,955.0 1027.5,963.0 1036.0,928.6 1044.6,922.3 1053.2,923.2 1061.7,938.9 1070.3,929.6 1078.8,920.6 1087.4,916.8 1096.0,910.7 1104.5,925.4 1113.1,912.9 1121.6,908.2 1130.2,916.8 1138.8,917.2 1147.3,906.0 1155.9,906.0 1164.4,896.3 1173.0,878.1 1181.6,858.8 1190.1,844.8 1198.7,844.1 1207.2,837.3 1215.8,830.4 1224.4,840.9 1232.9,833.0 1241.5,817.5 1250.0,830.2 1258.6,830.0 1267.2,828.7 1275.7,825.4 1284.3,825.0 1292.8,888.4 1301.4,893.1 1310.0,894.0 1318.5,892.1 1327.1,885.2 1335.6,902.1 1344.2,901.3 1352.8,906.7 1361.3,916.8 1369.9,925.4 1378.4,947.9 1387.0,924.3 1395.6,911.8 1404.1,923.6 1412.7,920.4 1421.2,890.5 1429.8,894.8 1438.4,901.7 1446.9,906.7 1455.5,913.1 1464.0,900.2 1472.6,899.6 1481.2,922.8 1489.7,922.8 1498.3,919.6 1506.8,922.1 1515.4,925.4 1524.0,948.3 1532.5,936.5 1541.1,946.2 1549.6,920.0 1558.2,922.8 1566.8,925.4 1575.3,942.1 1583.9,924.7 1592.4,929.2 1601.0,929.6 1609.6,944.3 1618.1,944.7 1626.7,949.0 1635.2,950.7 1643.8,935.7 1652.4,937.6 1660.9,943.2 1669.5,940.4 1678.0,940.4 1686.6,929.6 1695.2,915.0 1703.7,918.9 1712.3,912.9 1720.8,904.9 1729.4,895.7 1738.0,893.6 1746.5,911.8 1755.1,917.2 1763.6,910.3 1772.2,903.2 1780.8,905.6 1789.3,922.1 1797.9,924.7 1806.4,925.8 1815.0,951.6" stroke="#7e57c2" stroke-width="1.25"/>
</g>
<rect x="12.4" y="32.8" width="2023.1" height="996.0" fill="none" stroke="#efeff2" stroke-width="1.3"/>
<text x="12.6" y="25.2" font-size="14.7" fill="#131722" textLength="494" lengthAdjust="spacingAndGlyphs">kanguhalubale created with TradingView.com, Sep 22, 2025 11:07 UTC</text>
<text x="22.5" y="57.7" font-size="15" fill="#131722" textLength="221" lengthAdjust="spacingAndGlyphs">XRP / U.S. Dollar · 1D · Bitstamp</text>
<text x="253.5" y="57.7" font-size="15" fill="#131722">O</text>
<text x="265" y="57.7" font-size="15" fill="#F23645" textLength="54.5" lengthAdjust="spacingAndGlyphs">2.97106</text>
<text x="329" y="57.7" font-size="15" fill="#131722">H</text>
<text x="340.5" y="57.7" font-size="15" fill="#F23645" textLength="57" lengthAdjust="spacingAndGlyphs">2.97698</text>
<text x="407.5" y="57.7" font-size="15" fill="#131722">L</text>
<text x="415.5" y="57.7" font-size="15" fill="#F23645" textLength="58.5" lengthAdjust="spacingAndGlyphs">2.69440</text>
<text x="484" y="57.7" font-size="15" fill="#131722">C</text>
<text x="495" y="57.7" font-size="15" fill="#F23645" textLength="56" lengthAdjust="spacingAndGlyphs">2.81863</text>
<text x="560.5" y="57.7" font-size="15" fill="#F23645" textLength="135" lengthAdjust="spacingAndGlyphs">−0.15469 (−5.20%)</text>
<text x="22.5" y="78.4" font-size="15" fill="#131722" textLength="279.5" lengthAdjust="spacingAndGlyphs">SMAs (50, close, 100, close, 200, close)</text>
<text x="312" y="78.4" font-size="15" fill="#ffff00" textLength="55.5" lengthAdjust="spacingAndGlyphs">3.00167</text>
<text x="376.5" y="78.4" font-size="15" fill="#800000" textLength="58" lengthAdjust="spacingAndGlyphs">2.82554</text>
<text x="444" y="78.4" font-size="15" fill="#800080" textLength="58.5" lengthAdjust="spacingAndGlyphs">2.52989</text>
<text x="22.6" y="823.3" font-size="15" fill="#131722" textLength="98.8" lengthAdjust="spacingAndGlyphs">RSI (14, close)</text>
<text x="132.1" y="823.3" font-size="15" fill="#7e57c2" textLength="39.8" lengthAdjust="spacingAndGlyphs">39.46</text>
<text x="181.5" y="823.3" font-size="15" fill="#fdd835" textLength="39.4" lengthAdjust="spacingAndGlyphs">53.20</text>
<rect x="1951" y="37.8" width="80.7" height="31.7" rx="4" fill="#fff" stroke="#e8eaf0" stroke-width="1.2"/>
<text x="1962.2" y="58.9" font-size="14.5" fill="#131722" textLength="30.4" lengthAdjust="spacingAndGlyphs">USD</text>
<text x="1958.7" y="103.7" font-size="15" fill="#131722" textLength="59.5" lengthAdjust="spacingAndGlyphs">3.60000</text>
<text x="1958.7" y="164.0" font-size="15" fill="#131722" textLength="59.5" lengthAdjust="spacingAndGlyphs">3.40000</text>
<text x="1958.7" y="227.8" font-size="15" fill="#131722" textLength="59.5" lengthAdjust="spacingAndGlyphs">3.20000</text>
<text x="1958.7" y="406.8" font-size="15" fill="#131722" textLength="59.5" lengthAdjust="spacingAndGlyphs">2.70000</text>
<text x="1958.7" y="446.6" font-size="15" fill="#131722" textLength="59.5" lengthAdjust="spacingAndGlyphs">2.60000</text>
<text x="1958.7" y="530.9" font-size="15" fill="#131722" textLength="59.5" lengthAdjust="spacingAndGlyphs">2.40000</text>
<text x="1958.7" y="575.8" font-size="15" fill="#131722" textLength="59.5" lengthAdjust="spacingAndGlyphs">2.30000</text>
<text x="1958.7" y="622.6" font-size="15" fill="#131722" textLength="59.5" lengthAdjust="spacingAndGlyphs">2.20000</text>
<text x="1958.7" y="661.6" font-size="15" fill="#131722" textLength="59.5" lengthAdjust="spacingAndGlyphs">2.12000</text>
<text x="1958.7" y="702.2" font-size="15" fill="#131722" textLength="59.5" lengthAdjust="spacingAndGlyphs">2.04000</text>
<text x="1958.7" y="744.3" font-size="15" fill="#131722" textLength="59.5" lengthAdjust="spacingAndGlyphs">1.96000</text>
<text x="1958.7" y="782.6" font-size="15" fill="#131722" textLength="59.5" lengthAdjust="spacingAndGlyphs">1.89000</text>
<path d="M1947 280H2022.3Q2024.3 280 2024.3 282V299Q2024.3 301 2022.3 301H1947z" fill="#ffff00"/>
<text x="1958.7" y="295.3" font-size="15" fill="#000" textLength="59.5" lengthAdjust="spacingAndGlyphs">3.00167</text>
<path d="M1947 325.2H2022.3Q2024.3 325.2 2024.3 327.2V343.7Q2024.3 345.7 2022.3 345.7H1947z" fill="#800000"/>
<text x="1958.7" y="340.2" font-size="15" fill="#fff" textLength="59.5" lengthAdjust="spacingAndGlyphs">2.82554</text>
<path d="M1947 346.0H2026.8Q2028.8 346.0 2028.8 348.0V382.0Q2028.8 384.0 2026.8 384.0H1947z" fill="#F23645"/>
<text x="1958.7" y="361.2" font-size="15" fill="#fff" textLength="59.5" lengthAdjust="spacingAndGlyphs">2.81863</text>
<text x="1958.7" y="378.3" font-size="15" fill="#fff" textLength="63.3" lengthAdjust="spacingAndGlyphs">12:52:19</text>
<path d="M1947 384.6H2022.3Q2024.3 384.6 2024.3 386.6V403.6Q2024.3 405.6 2022.3 405.6H1947z" fill="#000"/>
<text x="1958.7" y="399.9" font-size="15" fill="#fff" textLength="59.5" lengthAdjust="spacingAndGlyphs">2.75000</text>
<path d="M1947 460.0H2022.3Q2024.3 460.0 2024.3 462.0V478.8Q2024.3 480.8 2022.3 480.8H1947z" fill="#800080"/>
<text x="1958.7" y="475.2" font-size="15" fill="#fff" textLength="59.5" lengthAdjust="spacingAndGlyphs">2.52989</text>
<path d="M1947 480.8H2022.3Q2024.3 480.8 2024.3 482.8V499.7Q2024.3 501.7 2022.3 501.7H1947z" fill="#000"/>
<text x="1958.7" y="496.0" font-size="15" fill="#fff" textLength="59.5" lengthAdjust="spacingAndGlyphs">2.52783</text>
<path d="M1947 671.9H2022.3Q2024.3 671.9 2024.3 673.9V690Q2024.3 692 2022.3 692H1947z" fill="#000"/>
<text x="1958.7" y="686.8" font-size="15" fill="#fff" textLength="59.5" lengthAdjust="spacingAndGlyphs">2.07000</text>
<text x="1958.7" y="846.3" font-size="15" fill="#131722" textLength="40.4" lengthAdjust="spacingAndGlyphs">80.00</text>
<text x="1958.7" y="901.3" font-size="15" fill="#131722" textLength="40.4" lengthAdjust="spacingAndGlyphs">60.00</text>
<path d="M1947 904.3H2003.7Q2005.7 904.3 2005.7 906.3V922.9Q2005.7 924.9 2003.7 924.9H1947z" fill="#fdd835"/>
<text x="1958.7" y="919.4" font-size="15" fill="#000" textLength="40.4" lengthAdjust="spacingAndGlyphs">53.20</text>
<path d="M1947 942.1H2003.7Q2005.7 942.1 2005.7 944.1V960.7Q2005.7 962.7 2003.7 962.7H1947z" fill="#7e57c2"/>
<text x="1958.7" y="957.2" font-size="15" fill="#fff" textLength="40.4" lengthAdjust="spacingAndGlyphs">39.46</text>
<text x="46.2" y="1018" font-size="14" font-weight="bold" fill="#131722" textLength="28" lengthAdjust="spacingAndGlyphs">Mar</text>
<text x="312.3" y="1018" font-size="14" font-weight="bold" fill="#131722" textLength="26.5" lengthAdjust="spacingAndGlyphs">Apr</text>
<text x="567.4" y="1018" font-size="14" font-weight="bold" fill="#131722" textLength="30" lengthAdjust="spacingAndGlyphs">May</text>
<text x="834.7" y="1018" font-size="14" font-weight="bold" fill="#131722" textLength="26" lengthAdjust="spacingAndGlyphs">Jun</text>
<text x="1093.8" y="1018" font-size="14" font-weight="bold" fill="#131722" textLength="21.5" lengthAdjust="spacingAndGlyphs">Jul</text>
<text x="1355.6" y="1018" font-size="14" font-weight="bold" fill="#131722" textLength="28.5" lengthAdjust="spacingAndGlyphs">Aug</text>
<text x="1621.2" y="1018" font-size="14" font-weight="bold" fill="#131722" textLength="28" lengthAdjust="spacingAndGlyphs">Sep</text>
<text x="1879.0" y="1018" font-size="14" font-weight="bold" fill="#131722" textLength="26" lengthAdjust="spacingAndGlyphs">Oct</text>
<g fill="#131313">
<path d="M15 1057H30V1075.1H22V1064.1H15z"/>
<circle cx="35.7" cy="1060.4" r="3.5"/>
<path d="M42.2 1057H51.8L44.5 1075.1H36.1z"/>
<text x="60.4" y="1075.1" font-size="26" font-weight="bold" textLength="150" lengthAdjust="spacingAndGlyphs">TradingView</text>
</g>
</svg>
</body></html>
